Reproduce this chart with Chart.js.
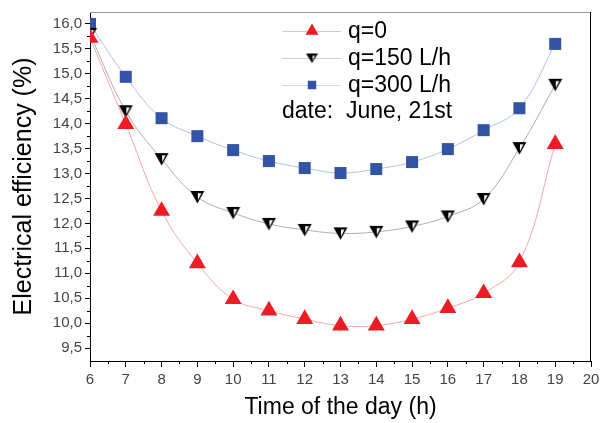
<!DOCTYPE html>
<html>
<head>
<meta charset="utf-8">
<script src="https://cdn.jsdelivr.net/npm/chart.js@4.4.1/dist/chart.umd.min.js"></script>
<style>
    html, body { margin: 0; padding: 0; background: #fff; }
    #wrap { width: 609px; height: 423px; }
</style>
</head>
<body>
<div id="wrap"><canvas id="effChart" width="609" height="423"></canvas></div>
<script>
// ===== Data =====
const hours = [6, 7, 8, 9, 10, 11, 12, 13, 14, 15, 16, 17, 18, 19];
const effQ0 = [15.72, 13.99, 12.25, 11.20, 10.48, 10.25, 10.08, 9.95, 9.95, 10.08, 10.30, 10.60, 11.22, 13.59];
const effQ150 = [15.80, 14.25, 13.29, 12.53, 12.21, 11.99, 11.87, 11.80, 11.83, 11.94, 12.14, 12.49, 13.51, 14.78];
const effQ300 = [16.00, 14.94, 14.11, 13.75, 13.47, 13.25, 13.11, 13.01, 13.09, 13.23, 13.49, 13.87, 14.31, 15.60];
const seriesLabels = ["q=0", "q=150 L/h", "q=300 L/h"];
const legendNote = "date:  June, 21st";
const xTicks = [6, 7, 8, 9, 10, 11, 12, 13, 14, 15, 16, 17, 18, 19, 20];
const yTicks = [9.5, 10, 10.5, 11, 11.5, 12, 12.5, 13, 13.5, 14, 14.5, 15, 15.5, 16];

const FONT = "'Liberation Sans', Arial, sans-serif";

// half-white down triangle marker (q=150)
function makeDownTriangle(w, h) {
    const c = document.createElement("canvas");
    c.width = w;
    c.height = h;
    const g = c.getContext("2d");
    g.fillStyle = "#000";
    g.beginPath();
    g.moveTo(0.5, 1); g.lineTo(w - 0.5, 1); g.lineTo(w / 2, h - 0.5);
    g.closePath();
    g.fill();
    g.fillStyle = "#fff";
    g.beginPath();
    g.moveTo(w / 2 + 0.5, 3.2);
    g.lineTo(w - 3.5, 3.2);
    g.lineTo(w / 2 + 0.5, h * 0.72);
    g.closePath();
    g.fill();
    return c;
}
const downTri = makeDownTriangle(15, 14);
const downTriSmall = makeDownTriangle(13, 11);

const toPoints = arr => arr.map((v, i) => ({ x: hours[i], y: v }));

// legend look (smaller markers, paler lines than the plot)
const legendStyle = [
    { line: "#f9b9b9", style: "triangle", radius: 7.5 },
    { line: "#cfcfcf", style: downTriSmall, radius: 6 },
    { line: "#d3daf0", style: "rect", radius: 6 }
];

// ===== Plugins: minor ticks, frame, legend =====
const framePlugin = {
    id: "frame",
    afterDraw(chart) {
        const { ctx, chartArea: a, scales } = chart;
        ctx.save();
        // top border (grey) and right border (black)
        ctx.lineWidth = 1;
        ctx.strokeStyle = "#999";
        ctx.beginPath();
        ctx.moveTo(a.left, a.top + 0.5);
        ctx.lineTo(a.right, a.top + 0.5);
        ctx.stroke();
        ctx.strokeStyle = "#000";
        ctx.beginPath();
        ctx.moveTo(a.right - 0.5, a.top);
        ctx.lineTo(a.right - 0.5, a.bottom);
        ctx.stroke();

        // minor ticks
        ctx.beginPath();
        for (let v = 6.5; v < 20; v += 1) {
            const px = Math.round(scales.x.getPixelForValue(v)) + 0.5;
            ctx.moveTo(px, a.bottom);
            ctx.lineTo(px, a.bottom + 3);
        }
        for (let v = 9.75; v < 16.2; v += 0.5) {
            const py = Math.round(scales.y.getPixelForValue(v)) + 0.5;
            ctx.moveTo(a.left, py);
            ctx.lineTo(a.left - 3, py);
        }
        ctx.stroke();

        // legend
        const rows = [31, 58, 85];
        chart.data.datasets.forEach((ds, i) => {
            const y = rows[i];
            const ls = legendStyle[i];
            ctx.strokeStyle = ls.line;
            ctx.lineWidth = 1;
            ctx.beginPath();
            ctx.moveTo(282, y + 0.5);
            ctx.lineTo(341, y + 0.5);
            ctx.stroke();
            ctx.fillStyle = ds.pointBackgroundColor;
            Chart.helpers.drawPoint(ctx, {
                pointStyle: ls.style,
                radius: ls.radius,
                rotation: 0,
                borderWidth: 0
            }, 312, y);
            ctx.fillStyle = "#000";
            ctx.font = "23px " + FONT;
            ctx.textAlign = "left";
            ctx.textBaseline = "middle";
            ctx.fillText(ds.label, 348, y + 1);
        });
        ctx.fillStyle = "#000";
        ctx.font = "23px " + FONT;
        ctx.textBaseline = "middle";
        ctx.fillText(legendNote, 282, 112);
        ctx.restore();
    }
};

// ===== Chart.js Initialization =====
const effChart = new Chart(document.getElementById("effChart").getContext("2d"), {
    type: "line",
    data: {
        datasets: [{
            label: seriesLabels[0],
            data: toPoints(effQ0),
            borderColor: "#f6a6a6",
            borderWidth: 1,
            tension: 0.4,
            pointStyle: "triangle",
            pointRadius: 9.8,
            pointBackgroundColor: "#ed1c24",
            pointBorderWidth: 0
        }, {
            label: seriesLabels[1],
            data: toPoints(effQ150),
            borderColor: "#9a9a9a",
            borderWidth: 0.8,
            tension: 0.4,
            pointStyle: downTri,
            pointRadius: 7,
            pointBackgroundColor: "#000",
            pointBorderWidth: 0
        }, {
            label: seriesLabels[2],
            data: toPoints(effQ300),
            borderColor: "#b3bee5",
            borderWidth: 1,
            tension: 0.4,
            pointStyle: "rect",
            pointRadius: 8.5,
            pointBackgroundColor: "#3353a4",
            pointBorderWidth: 0
        }]
    },
    options: {
        responsive: false,
        animation: false,
        layout: { padding: { top: 10, right: 18, left: 0, bottom: 0 } },
        plugins: {
            legend: { display: false },
            tooltip: { enabled: false }
        },
        scales: {
            x: {
                type: "linear",
                min: 6,
                max: 20,
                afterBuildTicks: s => { s.ticks = xTicks.map(v => ({ value: v })); },
                afterFit: s => { s.height = 62; },
                grid: { drawOnChartArea: false, tickLength: 6, tickColor: "#000" },
                border: { color: "#000", width: 1 },
                ticks: {
                    color: "#444",
                    font: { family: FONT, size: 15 },
                    padding: 4,
                    maxRotation: 0,
                    autoSkip: false
                },
                title: {
                    display: true,
                    text: "Time of the day (h)",
                    color: "#000",
                    font: { family: FONT, size: 23 },
                    padding: { top: 0, bottom: 2 }
                }
            },
            y: {
                min: 9.24,
                max: 16.24,
                afterBuildTicks: s => { s.ticks = yTicks.map(v => ({ value: v })); },
                afterFit: s => { s.width = 90; },
                grid: { drawOnChartArea: false, tickLength: 5, tickColor: "#000" },
                border: { color: "#000", width: 1 },
                ticks: {
                    color: "#444",
                    font: { family: FONT, size: 15 },
                    padding: 3,
                    callback: v => v.toFixed(1).replace(".", ",")
                },
                title: {
                    display: true,
                    text: "Electrical efficiency (%)",
                    color: "#000",
                    font: { family: FONT, size: 25 },
                    padding: { top: 9, bottom: 0 }
                }
            }
        }
    },
    plugins: [framePlugin]
});
</script>
</body>
</html>
